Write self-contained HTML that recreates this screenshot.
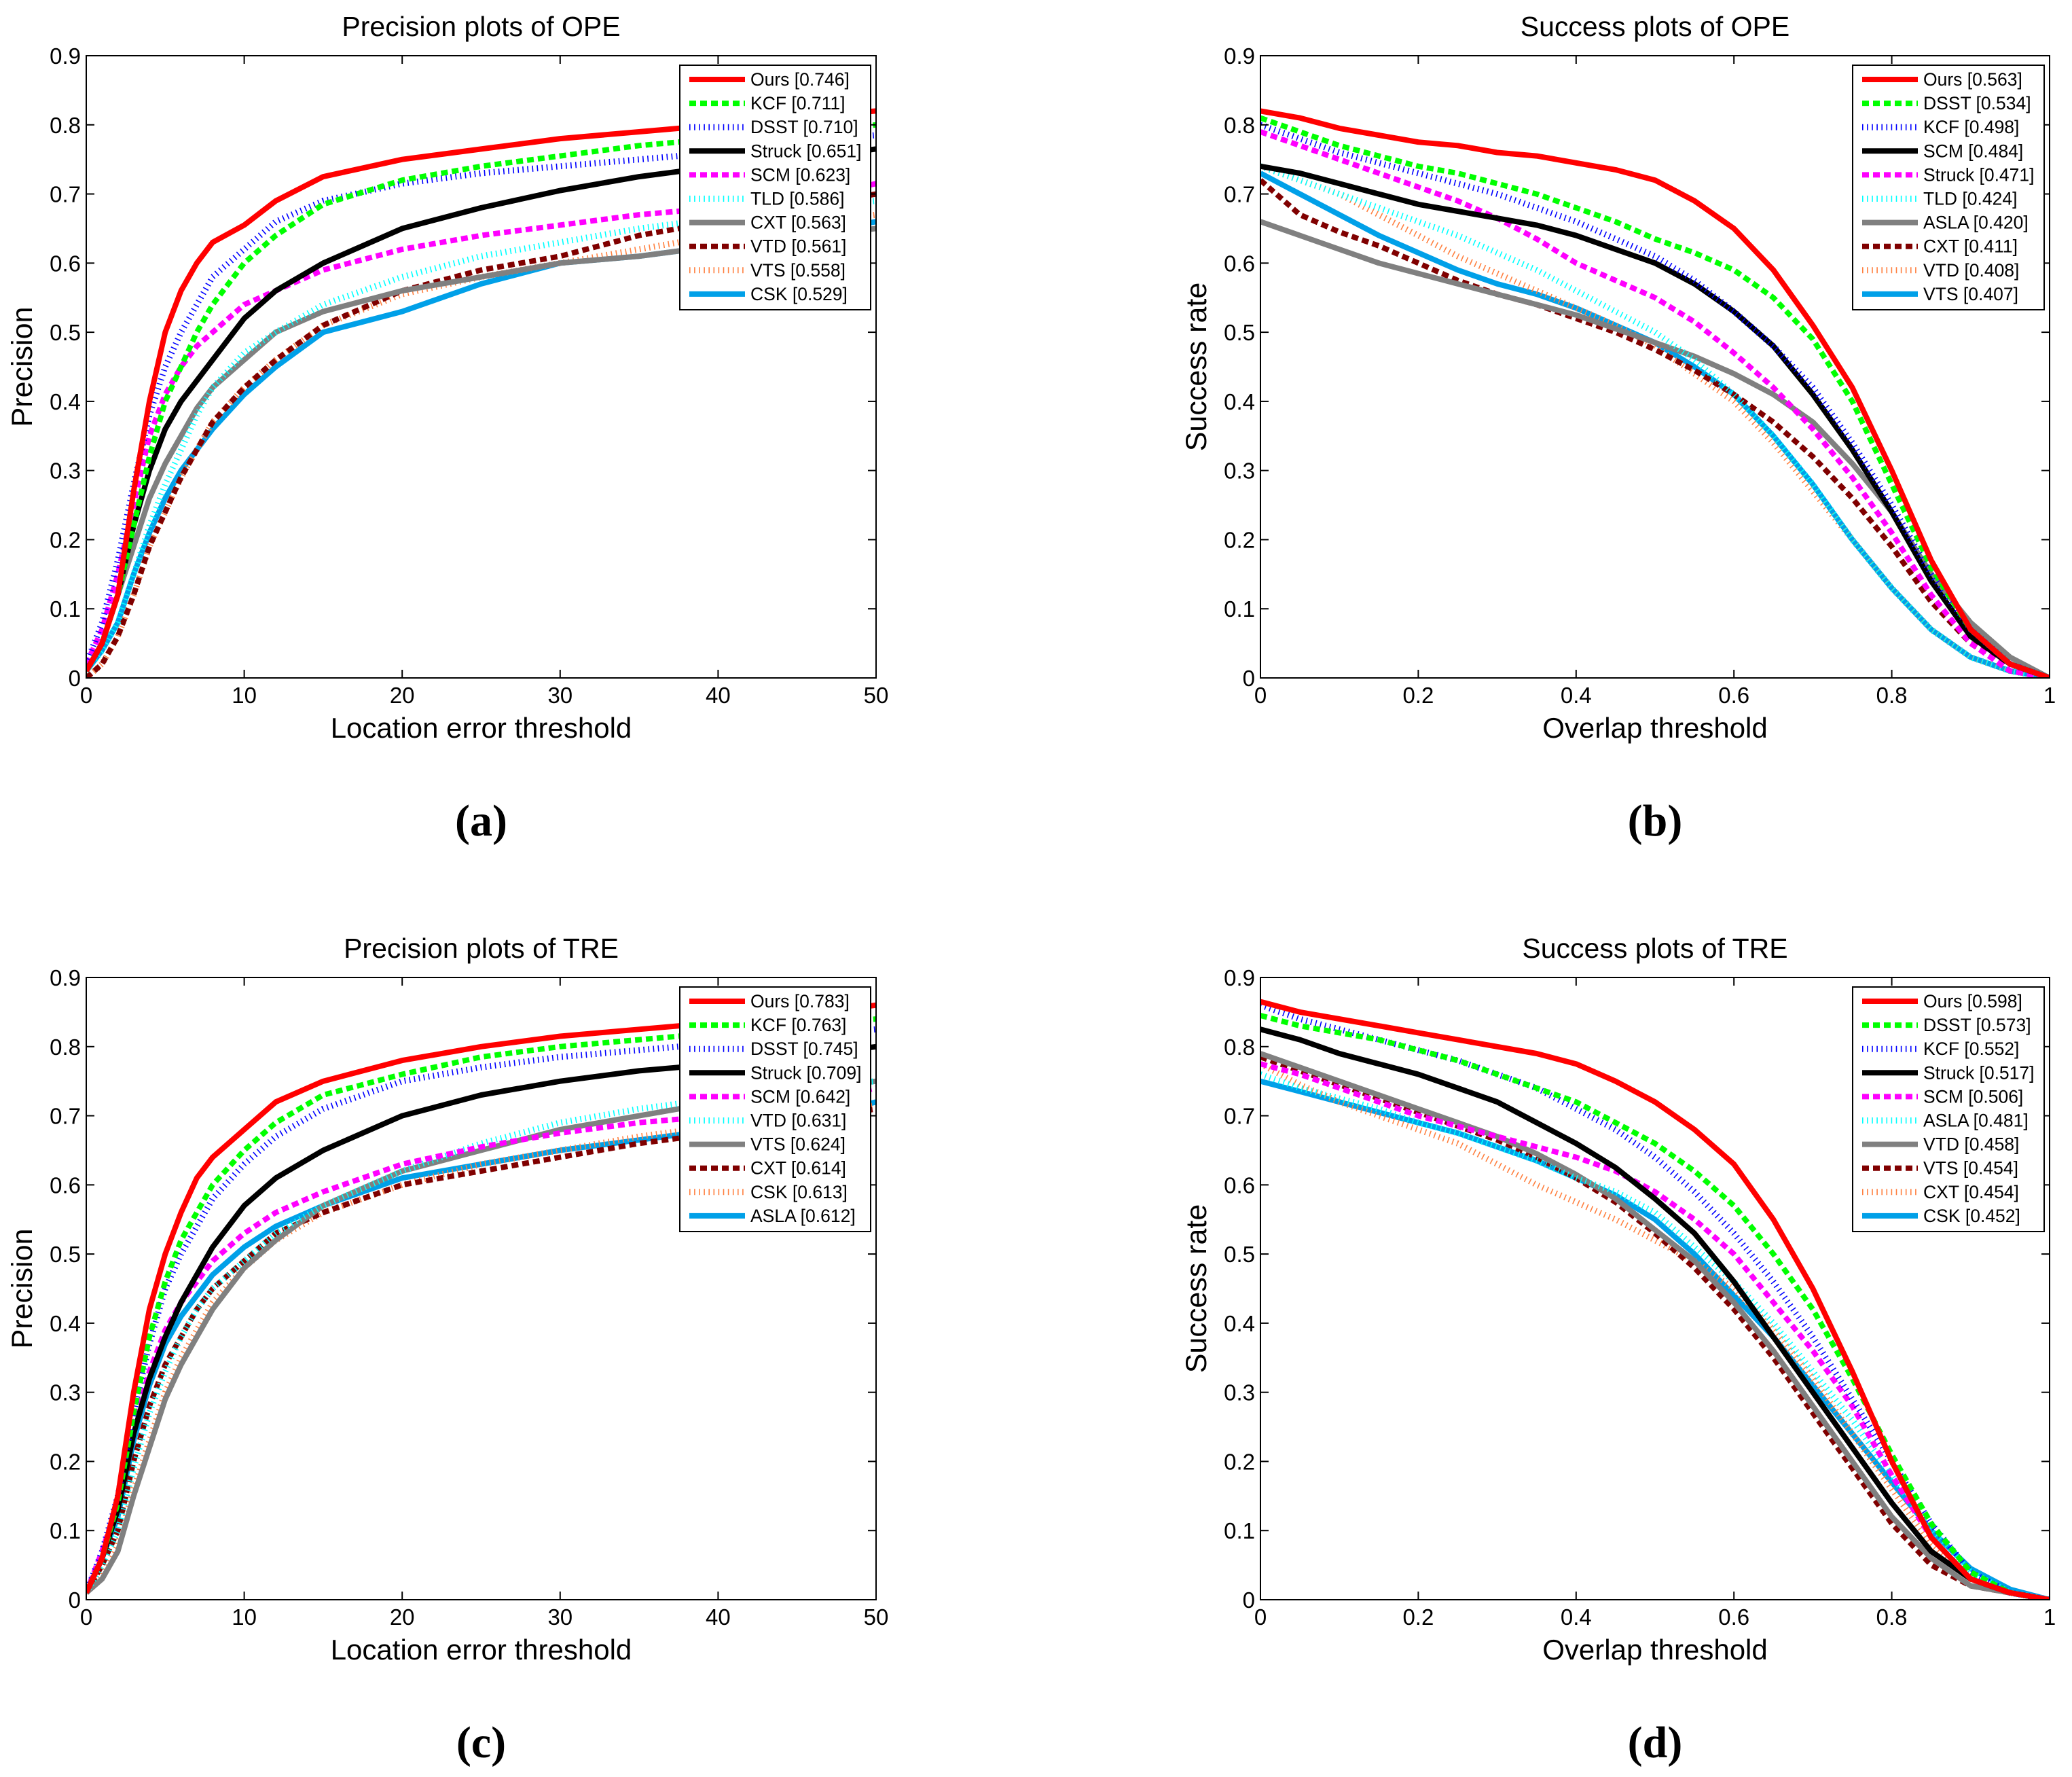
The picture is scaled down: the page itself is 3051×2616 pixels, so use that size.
<!DOCTYPE html>
<html><head><meta charset="utf-8"><style>
html,body{margin:0;padding:0;background:#fff;}
svg{display:block;font-family:"Liberation Sans",sans-serif;}
</style></head><body>
<svg id="fig" width="3051" height="2616" viewBox="0 0 3051 2616" xmlns="http://www.w3.org/2000/svg"></svg>
<script>
const precX = [0,1,2,3,4,5,6,7,8,10,12,15,20,25,30,35,40,45,50];
const succX = [0,0.05,0.1,0.15,0.2,0.25,0.3,0.35,0.4,0.45,0.5,0.55,0.6,0.65,0.7,0.75,0.8,0.85,0.9,0.95,1];
const precTicks = [0,10,20,30,40,50];
const succTicks = [0,0.2,0.4,0.6,0.8,1];
const succTickLabels = ['0','0.2','0.4','0.6','0.8','1'];
const yTicks = [0,0.1,0.2,0.3,0.4,0.5,0.6,0.7,0.8,0.9];
const yTickLabels = ['0','0.1','0.2','0.3','0.4','0.5','0.6','0.7','0.8','0.9'];

const aNames = ['Ours [0.746]','KCF [0.711]','DSST [0.710]','Struck [0.651]','SCM [0.623]','TLD [0.586]','CXT [0.563]','VTD [0.561]','VTS [0.558]','CSK [0.529]'];
const aOurs   = [0.01,0.05,0.12,0.27,0.40,0.50,0.56,0.60,0.63,0.655,0.69,0.725,0.75,0.765,0.78,0.79,0.80,0.81,0.82];
const aKCF    = [0.01,0.05,0.12,0.22,0.32,0.40,0.45,0.50,0.54,0.60,0.64,0.685,0.72,0.74,0.755,0.77,0.78,0.79,0.80];
const aDSST   = [0.02,0.08,0.17,0.28,0.38,0.45,0.50,0.54,0.58,0.62,0.66,0.69,0.715,0.73,0.74,0.75,0.76,0.775,0.785];
const aStruck = [0.01,0.05,0.12,0.22,0.30,0.36,0.40,0.43,0.46,0.52,0.56,0.60,0.65,0.68,0.705,0.725,0.74,0.75,0.765];
const aSCM    = [0.02,0.07,0.15,0.25,0.35,0.41,0.45,0.48,0.50,0.54,0.56,0.59,0.62,0.64,0.655,0.67,0.68,0.69,0.715];
const aTLD    = [0.01,0.04,0.08,0.15,0.22,0.28,0.33,0.38,0.42,0.47,0.50,0.54,0.58,0.61,0.63,0.65,0.665,0.68,0.69];
const aCXT    = [0.01,0.05,0.12,0.19,0.26,0.31,0.35,0.39,0.42,0.46,0.50,0.53,0.56,0.58,0.60,0.61,0.625,0.635,0.65];
const aVTD    = [0.00,0.02,0.06,0.12,0.19,0.24,0.29,0.33,0.37,0.42,0.46,0.51,0.56,0.59,0.61,0.64,0.66,0.68,0.70];
const aVTS    = [0.00,0.02,0.06,0.12,0.19,0.24,0.29,0.33,0.37,0.42,0.46,0.51,0.555,0.58,0.60,0.62,0.64,0.655,0.67];
const aCSK    = [0.01,0.04,0.08,0.15,0.21,0.26,0.30,0.33,0.36,0.41,0.45,0.50,0.53,0.57,0.60,0.61,0.625,0.64,0.66];

const bNames = ['Ours [0.563]','DSST [0.534]','KCF [0.498]','SCM [0.484]','Struck [0.471]','TLD [0.424]','ASLA [0.420]','CXT [0.411]','VTD [0.408]','VTS [0.407]'];
const bOurs   = [0.82,0.81,0.795,0.785,0.775,0.77,0.76,0.755,0.745,0.735,0.72,0.69,0.65,0.59,0.51,0.42,0.30,0.17,0.07,0.02,0];
const bDSST   = [0.81,0.79,0.77,0.755,0.74,0.73,0.715,0.70,0.68,0.66,0.635,0.615,0.59,0.55,0.49,0.40,0.28,0.16,0.07,0.02,0];
const bKCF    = [0.80,0.78,0.76,0.745,0.73,0.715,0.70,0.68,0.66,0.635,0.61,0.575,0.53,0.48,0.42,0.34,0.25,0.15,0.07,0.02,0];
const bSCM    = [0.74,0.73,0.715,0.70,0.685,0.675,0.665,0.655,0.64,0.62,0.60,0.57,0.53,0.48,0.41,0.33,0.24,0.14,0.06,0.02,0];
const bStruck = [0.79,0.77,0.75,0.73,0.71,0.69,0.665,0.635,0.60,0.575,0.55,0.515,0.47,0.42,0.36,0.29,0.21,0.12,0.05,0.01,0];
const bTLD    = [0.74,0.72,0.70,0.68,0.66,0.64,0.615,0.59,0.56,0.53,0.50,0.46,0.41,0.35,0.28,0.20,0.13,0.07,0.03,0.01,0];
const bASLA   = [0.66,0.64,0.62,0.60,0.585,0.57,0.555,0.54,0.525,0.505,0.485,0.465,0.44,0.41,0.37,0.31,0.24,0.15,0.08,0.03,0];
const bCXT    = [0.72,0.67,0.645,0.625,0.60,0.575,0.555,0.54,0.52,0.50,0.475,0.445,0.41,0.37,0.32,0.26,0.19,0.11,0.05,0.02,0];
const bVTD    = [0.74,0.72,0.70,0.67,0.64,0.61,0.585,0.56,0.535,0.51,0.48,0.44,0.40,0.34,0.27,0.20,0.13,0.07,0.03,0.01,0];
const bVTS    = [0.73,0.70,0.67,0.64,0.615,0.59,0.57,0.555,0.535,0.51,0.485,0.45,0.41,0.35,0.28,0.20,0.13,0.07,0.03,0.01,0];

const cNames = ['Ours [0.783]','KCF [0.763]','DSST [0.745]','Struck [0.709]','SCM [0.642]','VTD [0.631]','VTS [0.624]','CXT [0.614]','CSK [0.613]','ASLA [0.612]'];
const cOurs   = [0.01,0.06,0.15,0.30,0.42,0.50,0.56,0.61,0.64,0.68,0.72,0.75,0.78,0.80,0.815,0.825,0.835,0.845,0.86];
const cKCF    = [0.01,0.06,0.14,0.27,0.38,0.46,0.52,0.56,0.60,0.65,0.69,0.73,0.76,0.785,0.80,0.81,0.82,0.83,0.84];
const cDSST   = [0.01,0.07,0.15,0.27,0.37,0.45,0.50,0.54,0.58,0.63,0.67,0.71,0.75,0.77,0.785,0.795,0.805,0.815,0.825];
const cStruck = [0.01,0.06,0.13,0.24,0.32,0.38,0.43,0.47,0.51,0.57,0.61,0.65,0.70,0.73,0.75,0.765,0.775,0.785,0.80];
const cSCM    = [0.01,0.07,0.14,0.25,0.33,0.39,0.43,0.46,0.49,0.53,0.56,0.59,0.63,0.655,0.675,0.69,0.70,0.715,0.74];
const cVTD    = [0.01,0.05,0.10,0.19,0.27,0.33,0.38,0.42,0.45,0.49,0.53,0.57,0.62,0.66,0.69,0.71,0.725,0.74,0.75];
const cVTS    = [0.01,0.03,0.07,0.15,0.22,0.29,0.34,0.38,0.42,0.48,0.52,0.57,0.62,0.65,0.68,0.70,0.72,0.735,0.75];
const cCXT    = [0.01,0.05,0.10,0.20,0.28,0.34,0.38,0.42,0.45,0.49,0.53,0.56,0.60,0.62,0.64,0.66,0.675,0.69,0.71];
const cCSK    = [0.01,0.04,0.08,0.16,0.23,0.30,0.35,0.39,0.43,0.48,0.52,0.56,0.60,0.63,0.65,0.67,0.685,0.70,0.715];
const cASLA   = [0.01,0.06,0.12,0.23,0.31,0.37,0.41,0.44,0.47,0.51,0.54,0.57,0.61,0.63,0.65,0.665,0.68,0.69,0.72];

const dNames = ['Ours [0.598]','DSST [0.573]','KCF [0.552]','Struck [0.517]','SCM [0.506]','ASLA [0.481]','VTD [0.458]','VTS [0.454]','CXT [0.454]','CSK [0.452]'];
const dOurs   = [0.865,0.85,0.84,0.83,0.82,0.81,0.80,0.79,0.775,0.75,0.72,0.68,0.63,0.55,0.45,0.33,0.20,0.09,0.03,0.01,0];
const dDSST   = [0.845,0.83,0.82,0.81,0.795,0.78,0.76,0.74,0.72,0.69,0.66,0.62,0.57,0.50,0.42,0.32,0.21,0.11,0.04,0.01,0];
const dKCF    = [0.86,0.84,0.825,0.81,0.795,0.78,0.76,0.74,0.71,0.68,0.64,0.59,0.53,0.46,0.38,0.29,0.20,0.11,0.04,0.01,0];
const dStruck = [0.825,0.81,0.79,0.775,0.76,0.74,0.72,0.69,0.66,0.625,0.58,0.53,0.46,0.38,0.30,0.22,0.14,0.07,0.03,0.01,0];
const dSCM    = [0.775,0.76,0.74,0.72,0.70,0.685,0.67,0.655,0.64,0.62,0.59,0.55,0.50,0.43,0.36,0.28,0.18,0.09,0.03,0.01,0];
const dASLA   = [0.76,0.74,0.725,0.71,0.69,0.675,0.655,0.635,0.61,0.59,0.56,0.51,0.46,0.40,0.33,0.26,0.18,0.10,0.04,0.01,0];
const dVTD    = [0.79,0.77,0.75,0.73,0.71,0.69,0.67,0.645,0.615,0.58,0.535,0.49,0.43,0.36,0.28,0.20,0.12,0.06,0.02,0.01,0];
const dVTS    = [0.785,0.765,0.745,0.725,0.705,0.685,0.665,0.64,0.61,0.575,0.53,0.48,0.42,0.35,0.27,0.19,0.11,0.05,0.02,0.01,0];
const dCXT    = [0.775,0.745,0.72,0.70,0.68,0.66,0.63,0.60,0.575,0.55,0.52,0.49,0.45,0.39,0.32,0.24,0.16,0.08,0.03,0.01,0];
const dCSK    = [0.75,0.735,0.72,0.705,0.69,0.675,0.655,0.635,0.61,0.585,0.55,0.50,0.44,0.38,0.31,0.24,0.17,0.10,0.045,0.015,0];

const NS='http://www.w3.org/2000/svg';
const svg=document.getElementById('fig');
const styles=[
 {c:'#ff0000',w:8,d:''},{c:'#00ff00',w:8,d:'10,6'},{c:'#0000ff',w:9,d:'1.6,5.5'},
 {c:'#000000',w:8,d:''},{c:'#ff00ff',w:8,d:'10,6'},{c:'#00ffff',w:9,d:'1.6,5.5'},
 {c:'#808080',w:8,d:''},{c:'#800000',w:8,d:'10,6'},{c:'#ff8040',w:9,d:'1.6,5.5'},
 {c:'#00a0e8',w:8,d:''}];
function mk(tag,attrs,parent){const e=document.createElementNS(NS,tag);for(const k in attrs)e.setAttribute(k,attrs[k]);(parent||svg).appendChild(e);return e;}

function panel(id,L,T,R,B,xs,xmax,xt,xtl,title,xlabel,ylabel,letter,names,series,legL,legR){
 const g=mk('g',{});
 
 
 const sx=v=>L+(v/xmax)*(R-L), sy=v=>B-(v/0.9)*(B-T);
 const clip=mk('clipPath',{id:'clip'+id},g); mk('rect',{x:L,y:T,width:R-L,height:B-T},clip);
 const lg=mk('g',{'clip-path':'url(#clip'+id+')'},g);
 for(let i=series.length-1;i>=0;i--){
  const s=styles[i];
  const p=mk('polyline',{points:xs.map((x,j)=>sx(x).toFixed(1)+','+sy(series[i][j]).toFixed(1)).join(' '),fill:'none',stroke:s.c,'stroke-width':s.w,'stroke-dasharray':s.d,'stroke-linejoin':'round'},lg);
  
  
 }
 const ax=mk('rect',{x:L,y:T,width:R-L,height:B-T,fill:'none',stroke:'#000','stroke-width':2},g);
 
 
 xt.forEach((v,i)=>{const x=sx(v);
  mk('line',{x1:x,y1:B,x2:x,y2:B-12,stroke:'#000','stroke-width':2},g);
  mk('line',{x1:x,y1:T,x2:x,y2:T+12,stroke:'#000','stroke-width':2},g);
  const t=mk('text',{x:x,y:B+37,'font-size':33,'text-anchor':'middle'},g);t.textContent=xtl[i];
  
  });
 yTicks.forEach((v,i)=>{const y=sy(v);
  mk('line',{x1:L,y1:y,x2:L+12,y2:y,stroke:'#000','stroke-width':2},g);
  mk('line',{x1:R,y1:y,x2:R-12,y2:y,stroke:'#000','stroke-width':2},g);
  const t=mk('text',{x:L-8,y:y+12,'font-size':33,'text-anchor':'end'},g);t.textContent=yTickLabels[i];
  
  });
 let t=mk('text',{x:(L+R)/2,y:T-29,'font-size':41,'text-anchor':'middle'},g);t.textContent=title;
 
 
 t=mk('text',{x:(L+R)/2,y:B+88,'font-size':42,'text-anchor':'middle'},g);t.textContent=xlabel;
 
 
 const yc=(T+B)/2, yx=L-80;
 t=mk('text',{x:yx,y:yc,'font-size':43,'text-anchor':'middle',transform:'rotate(-90 '+yx+' '+yc+')'},g);t.textContent=ylabel;
 
 
 t=mk('text',{x:(L+R)/2,y:B+232,'font-size':66,'font-weight':'bold','text-anchor':'middle','font-family':'Liberation Serif, serif'},g);t.textContent=letter;
 
 
 const lb=mk('g',{},g);
 
 
 mk('rect',{x:legL,y:T+14,width:legR-legL,height:360,fill:'#fff',stroke:'#000','stroke-width':2},lb);
 names.forEach((n,i)=>{const y=T+35+i*35.1, s=styles[i];
  const e=mk('g',{},lb);
  
  
  mk('line',{x1:legL+14,y1:y,x2:legL+96,y2:y,stroke:s.c,'stroke-width':s.w,'stroke-dasharray':s.d},e);
  const tx=mk('text',{x:legL+104,y:y+9,'font-size':26.5},e);tx.textContent=n;});
}
panel('a',127,82,1290,998,precX,50,precTicks,['0','10','20','30','40','50'],'Precision plots of OPE','Location error threshold','Precision','(a)',aNames,[aOurs,aKCF,aDSST,aStruck,aSCM,aTLD,aCXT,aVTD,aVTS,aCSK],1001,1282);
panel('b',1856,82,3018,998,succX,1,succTicks,succTickLabels,'Success plots of OPE','Overlap threshold','Success rate','(b)',bNames,[bOurs,bDSST,bKCF,bSCM,bStruck,bTLD,bASLA,bCXT,bVTD,bVTS],2728,3010);
panel('c',127,1439,1290,2355,precX,50,precTicks,['0','10','20','30','40','50'],'Precision plots of TRE','Location error threshold','Precision','(c)',cNames,[cOurs,cKCF,cDSST,cStruck,cSCM,cVTD,cVTS,cCXT,cCSK,cASLA],1001,1282);
panel('d',1856,1439,3018,2355,succX,1,succTicks,succTickLabels,'Success plots of TRE','Overlap threshold','Success rate','(d)',dNames,[dOurs,dDSST,dKCF,dStruck,dSCM,dASLA,dVTD,dVTS,dCXT,dCSK],2728,3010);
</script>
</body></html>
